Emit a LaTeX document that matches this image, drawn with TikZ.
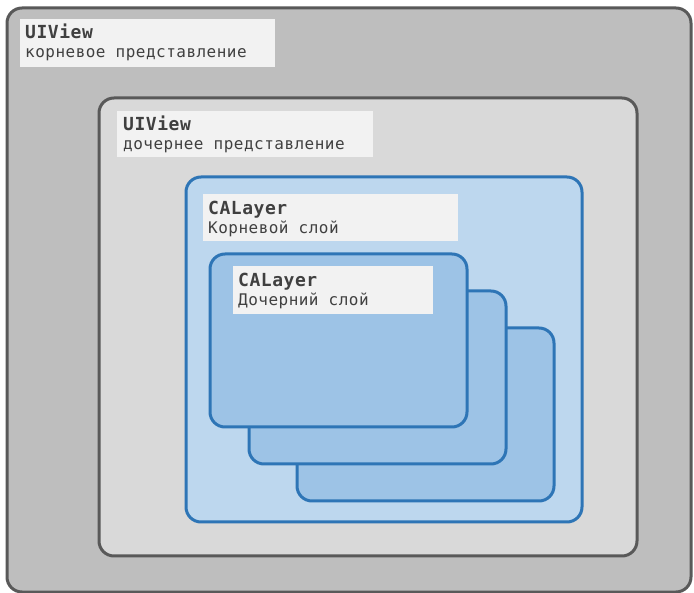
\documentclass[tikz,border=0pt]{standalone}
\usepackage{fontspec}
\setmonofont{DejaVu Sans Mono}
\newfontfamily\labelmono[LetterSpace=3]{DejaVu Sans Mono}
\usetikzlibrary{positioning}
\definecolor{rootfill}{HTML}{BEBEBE}
\definecolor{childfill}{HTML}{D9D9D9}
\definecolor{viewline}{HTML}{595959}
\definecolor{layerline}{HTML}{2E75B6}
\definecolor{rootlayer}{HTML}{BDD7EE}
\definecolor{sublayer}{HTML}{9DC3E6}
\definecolor{tagfill}{HTML}{F2F2F2}
\definecolor{tagtext}{HTML}{404040}
\tikzset{
  viewbox/.style={draw=viewline,line width=3pt,rounded corners=15pt},
  layerbox/.style={draw=layerline,line width=3pt,rounded corners=15pt},
  tag/.style={fill=tagfill},
  title/.style={anchor=base west,inner sep=0pt,text=tagtext,font=\labelmono\bfseries\fontsize{18}{20}\selectfont},
  sub/.style={anchor=base west,inner sep=0pt,text=tagtext,font=\labelmono\fontsize{16}{18}\selectfont},
}
\begin{document}
\begin{tikzpicture}[x=1pt,y=-1pt]
\useasboundingbox[fill=white] (0,0) rectangle (694,593);
% views
\draw[viewbox,fill=rootfill] (7,8) rectangle (691,592);
\fill[tag] (20,19) rectangle (275,67);
\node[title] (roottitle) at (25,39) {UIView};
\node[sub] (rootsub) at (25,58) {корневое представление};
\draw[viewbox,fill=childfill] (99,98) rectangle (637,556);
\fill[tag] (117,111) rectangle (373,157);
\node[title] (childtitle) at (123,131) {UIView};
\node[sub] (childsub) at (123,150) {дочернее представление};
% layers
\draw[layerbox,fill=rootlayer] (186,177) rectangle (582,522);
\fill[tag] (203,194) rectangle (458,241);
\node[title] (layertitle) at (208,215) {CALayer};
\node[sub] (layersub) at (208,234) {Корневой слой};
\draw[layerbox,fill=sublayer] (297,328) rectangle (554,501);
\draw[layerbox,fill=sublayer] (249,291) rectangle (506,464);
\draw[layerbox,fill=sublayer] (210,254) rectangle (467,427);
\fill[tag] (233,266) rectangle (433,314);
\node[title] (subtitle) at (238,287) {CALayer};
\node[sub] (subsub) at (238,306) {Дочерний слой};
\end{tikzpicture}
\end{document}
